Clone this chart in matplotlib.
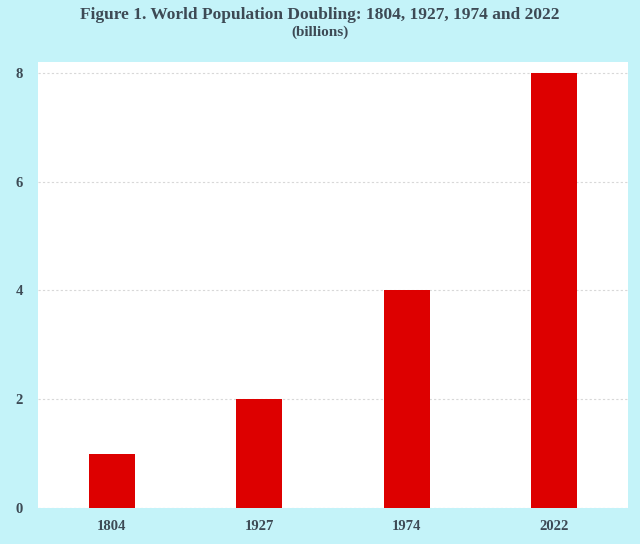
import matplotlib.pyplot as plt

years = ['1804', '1927', '1974', '2022']
population = [1, 2, 4, 8]
yticks = [0, 2, 4, 6, 8]

bg = '#c4f3f9'
txt = '#3d4a55'

fig = plt.figure(figsize=(6.4, 5.44), dpi=100, facecolor=bg)
ax = fig.add_axes([38/640, 1 - 508/544, 590/640, 446/544])
ax.set_facecolor('white')

ax.bar(range(len(years)), population, width=0.31, color='#dd0000', zorder=3)

ax.set_xlim(-0.5, 3.5)
ax.set_ylim(0, 8.2)
ax.set_xticks(range(len(years)), years)
ax.set_yticks(yticks)
ax.grid(axis='y', color='#d8d8d8', linestyle=(0, (2, 2)), linewidth=0.8, zorder=0)
for s in ax.spines.values():
    s.set_visible(False)
ax.tick_params(length=0, colors=txt, labelsize=10.5, pad=9)
ax.tick_params(axis='y', pad=11)
for lab in ax.get_xticklabels() + ax.get_yticklabels():
    lab.set_family('Liberation Serif')
    lab.set_fontweight('bold')

fig.text(0.5, 1 - 15/544, 'Figure 1. World Population Doubling: 1804, 1927, 1974 and 2022',
         ha='center', va='center', family='Liberation Serif', weight='bold',
         fontsize=12.5, color=txt)
fig.text(0.5, 1 - 32/544, '(billions)', ha='center', va='center',
         family='Liberation Serif', weight='bold', fontsize=11, color=txt)

fig.savefig('out.png', dpi=100, facecolor=bg)
